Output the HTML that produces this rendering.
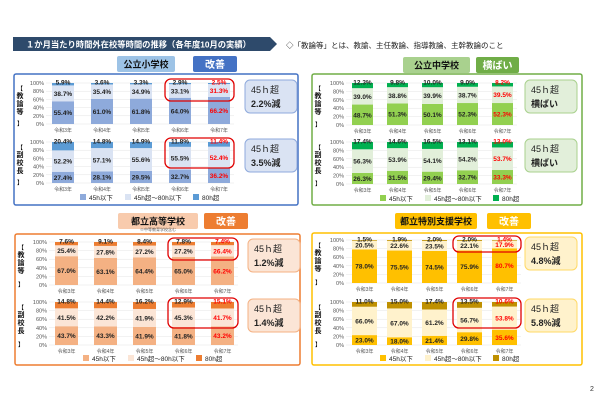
<!DOCTYPE html>
<html><head><meta charset="utf-8">
<style>
body{margin:0;background:#fff;}
svg{display:block;font-family:"Liberation Sans","Noto Sans CJK JP",sans-serif;}
</style></head><body>
<svg id="s" width="600" height="400" viewBox="0 0 600 400" xmlns="http://www.w3.org/2000/svg">
<polygon points="13,37 270,37 277,44 270,51 13,51" fill="#2e4a6b"/>
<text x="26" y="47.5" font-size="8.3" font-weight="bold" fill="#fff">１か月当たり時間外在校等時間の推移（各年度10月の実績）</text>
<text x="286" y="48" font-size="7.5" fill="#222">◇「教論等」とは、教諭、主任教論、指導教論、主幹教論のこと</text>
<text x="590" y="391" font-size="7" fill="#333">2</text>
<g id="g"></g>
</svg>
<script>
const years=["令和3年","令和4年","令和5年","令和6年","令和7年"];
// panel 1 公立小学校
const p1aLow=[55.4,61.0,61.8,64.0,66.2], p1aMid=[38.7,35.4,34.9,33.1,31.3], p1aHigh=[5.9,3.6,3.3,2.9,2.5];
const p1bLow=[27.4,28.1,29.5,32.7,36.2], p1bMid=[52.2,57.1,55.6,55.5,52.4], p1bHigh=[20.4,14.8,14.9,11.8,11.4];
// panel 2 公立中学校
const p2aLow=[48.7,51.3,50.1,52.3,52.3], p2aMid=[39.0,38.8,39.9,38.7,39.5], p2aHigh=[12.3,9.8,10.0,9.0,8.2];
const p2bLow=[26.3,31.5,29.4,32.7,33.3], p2bMid=[56.3,53.9,54.1,54.2,53.7], p2bHigh=[17.4,14.6,16.5,13.1,13.0];
// panel 3 都立高等学校
const p3aLow=[67.0,63.1,64.4,65.0,66.2], p3aMid=[25.4,27.8,27.2,27.2,26.4], p3aHigh=[7.6,9.1,8.4,7.8,7.4];
const p3bLow=[43.7,43.3,41.9,41.8,43.2], p3bMid=[41.5,42.2,41.9,45.3,41.7], p3bHigh=[14.8,14.4,16.2,12.9,15.1];
// panel 4 都立特別支援学校
const p4aLow=[78.0,75.5,74.5,75.9,80.7], p4aMid=[20.5,22.6,23.5,22.1,17.9], p4aHigh=[1.5,1.9,2.0,2.0,1.4];
const p4bLow=[23.0,18.0,21.4,29.8,35.6], p4bMid=[66.0,67.0,61.2,56.7,53.8], p4bHigh=[11.0,15.0,17.4,13.5,10.6];
const yTicks=["100%","80%","60%","40%","20%","0%"];

const NS="http://www.w3.org/2000/svg";
const G=document.getElementById("g");
function el(tag,attrs,parent){const e=document.createElementNS(NS,tag);for(const k in attrs)e.setAttribute(k,attrs[k]);(parent||G).appendChild(e);return e;}
function txt(x,y,s,size,fill,anchor,weight,parent){const t=el("text",{x:x,y:y,"font-size":size,fill:fill,"text-anchor":anchor||"start","font-weight":weight||"normal"},parent);t.textContent=s;return t;}

const panels=[
 {name:"elementary",title:"公立小学校",tag:"改善",px:14,py:74,pw:284,ph:131,border:"#4472c4",hx:117,hw:58,hy:56,tx:193,tw:44,hfill:"#9dc3e6",tfill:"#4472c4",
  bx:52,step:39,bw:22,c:["#8eaadb","#dae3f3","#5b9bd5"],A:[p1aLow,p1aMid,p1aHigh],B:[p1bLow,p1bMid,p1bHigh],ya:83,yb:142,h:41,
  cx:245,cfill:"#dae3f3",cstroke:"#8faadc",call:[["45ｈ超","2.2%減"],["45ｈ超","3.5%減"]],ring:true,legy:199},
 {name:"junior-high",title:"公立中学校",tag:"横ばい",px:312,py:74,pw:270,ph:131,border:"#70ad47",hx:403,hw:67,hy:57,tx:476,tw:43,hfill:"#a9d18e",tfill:"#70ad47",
  bx:352,step:35,bw:21,c:["#92d050","#e2efda","#00b050"],A:[p2aLow,p2aMid,p2aHigh],B:[p2bLow,p2bMid,p2bHigh],ya:83,yb:142,h:42,
  cx:525,cfill:"#e2efda",cstroke:"#a9d18e",call:[["45ｈ超","横ばい"],["45ｈ超","横ばい"]],ring:false,legy:200},
 {name:"high-school",title:"都立高等学校",tag:"改善",px:15,py:234,pw:285,ph:131,border:"#ed7d31",hx:118,hw:80,hy:213,tx:204,tw:44,hfill:"#f8cbad",tfill:"#ed7d31",
  bx:55,step:39,bw:23,c:["#f4b183","#fbe5d6","#ed7d31"],A:[p3aLow,p3aMid,p3aHigh],B:[p3bLow,p3bMid,p3bHigh],ya:242,yb:302,h:43,
  cx:248,cfill:"#fbe5d6",cstroke:"#f4b183",call:[["45ｈ超","1.2%減"],["45ｈ超","1.4%減"]],ring:true,legy:360},
 {name:"special-support",title:"都立特別支援学校",tag:"改善",px:312,py:233,pw:270,ph:132,border:"#ffc000",hx:395,hw:82,hy:213,tx:487,tw:44,hfill:"#ffc000",tfill:"#ffc000",
  bx:352,step:35,bw:25,c:["#ffc000","#fff2cc","#bf9000"],A:[p4aLow,p4aMid,p4aHigh],B:[p4bLow,p4bMid,p4bHigh],ya:240,yb:302,h:43,
  cx:525,cfill:"#fff2cc",cstroke:"#ffd966",call:[["45ｈ超","4.8%減"],["45ｈ超","5.8%減"]],ring:true,legy:360}
];

panels.forEach(P=>{
  const pg=el("g",{});
  
  
  const hb=el("rect",{x:P.hx,y:P.hy,width:P.hw,height:16,rx:2,fill:P.hfill},pg);
  
  
  const ht=txt(P.hx+P.hw/2,P.hy+11.5,P.title,9,"#111","middle","bold",pg);
  
  
  const tb=el("rect",{x:P.tx,y:P.hy,width:P.tw,height:16,rx:2,fill:P.tfill},pg);
  
  
  const tt=txt(P.tx+P.tw/2,P.hy+12,P.tag,10,"#fff","middle","bold",pg);
  
  
  const fr=el("rect",{x:P.px,y:P.py,width:P.pw,height:P.ph,fill:"#fff",stroke:P.border,"stroke-width":1.5,rx:2},pg);
  
  
  [[P.A,P.ya,"教論等"],[P.B,P.yb,"副校長"]].forEach((ch,ci)=>{
    const [S,y0,lab]=ch; const H=P.h;
    const cg=el("g",{},pg);
    
    
    const yv=v=>y0+H-v/100*H;
    yTicks.forEach((t,i)=>{
      const yy=y0+i*H/5;
      el("line",{x1:P.bx-6,x2:P.bx+4*P.step+P.bw+4,y1:yy,y2:yy,stroke:"#e4e4e4","stroke-width":0.5},cg);
      const tk=txt(P.bx-8,yy+2,t,5.5,"#555","end","normal",cg);
      
      
    });
    txt(P.px+6,y0+8,"【",6,"#111","middle","bold",cg);
    for(let k=0;k<3;k++){const c=txt(P.px+6,y0+15+k*8,lab[k],7,"#111","middle","bold",cg);}
    txt(P.px+6,y0+H+2,"】",6,"#111","middle","bold",cg);
    years.forEach((yr,i)=>{
      const x=P.bx+i*P.step; let cum=0;
      const red=i===4;
      [0,1,2].forEach(s=>{
        const v=S[s][i];
        const r=el("rect",{x:x,y:yv(cum+v),width:P.bw,height:v/100*H,fill:P.c[s]},cg);
        
        
        const mid=s===2? yv(100)+1.5 : yv(cum+v/2)+2.5;
        const lt=txt(x+P.bw/2,mid,v.toFixed(1)+"%",6.5,red?"#ff0000":"#222","middle","bold",cg);
        
        
        cum+=v;
      });
      const xl=txt(x+P.bw/2,y0+H+8,yr,5,"#555","middle","normal",cg);
      
      
    });
    const cb=el("rect",{x:P.cx,y:y0-3,width:52,height:33,rx:5,fill:P.cfill,stroke:P.cstroke,"stroke-width":1},cg);
    
    
    const c1=txt(P.cx+6,y0+10,P.call[ci][0],9,"#222","start","normal",cg);
    
    
    const c2=txt(P.cx+6,y0+24,P.call[ci][1],9,"#222","start","bold",cg);
    
    
    if(P.ring){
      const rx=P.bx+3*P.step-4, rw=P.step+P.bw+8;
      const rr=el("rect",{x:rx,y:y0-4,width:rw,height:ci===0&&P.name==="special-support"?16:(ci===0?22:30),rx:6,fill:"none",stroke:"#e00000","stroke-width":1.3},cg);
      
      
    }
  });
  const lg=el("g",{},pg);
  
  
  const names=["45h以下","45h超～80h以下","80h超"], offs=[0,45,113];
  names.forEach((n,i)=>{
    const lx=P.bx+28+offs[i];
    const sw=el("rect",{x:lx,y:P.legy-5,width:6,height:6,fill:P.c[i]},lg);
    
    
    const lt=txt(lx+9,P.legy+1,n,6.5,"#222","start","normal",lg);
    
    
  });
});
const sub=txt(158,231,"※中等教育学校含む",4,"#555","middle");


</script>
</body></html>
